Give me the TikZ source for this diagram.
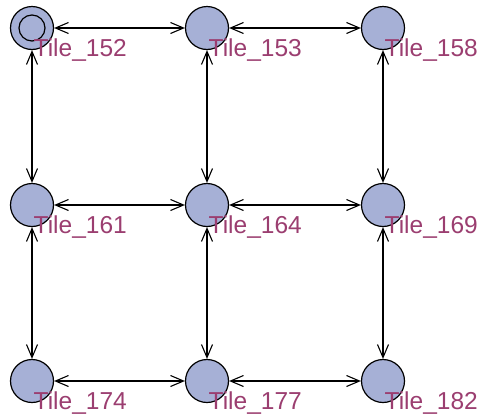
\documentclass[tikz,border=0pt]{standalone}
\usepackage{fontspec}
\setmainfont{Liberation Sans}
\usetikzlibrary{arrows.meta}
\definecolor{tilefill}{RGB}{166,176,214}
\definecolor{tilelabel}{RGB}{155,62,112}
\begin{document}
\begin{tikzpicture}[x=1pt,y=1pt,
  tile/.style={circle,draw=black,line width=1.2pt,fill=tilefill,minimum size=43pt,inner sep=0pt},
  tilename/.style={anchor=base west,text=tilelabel,font=\fontsize{24.5}{27}\selectfont,inner sep=0pt},
  link/.style={draw=black,line width=1.1pt,{Straight Barb[length=13pt,width=11pt]}-{Straight Barb[length=13pt,width=11pt]}}]
\useasboundingbox (0,0) rectangle (479,-413);
% grid of tiles
\node[tile] (t152) at (32,-28) {};
\node[tile] (t153) at (207,-28) {};
\node[tile] (t158) at (383,-28) {};
\node[tile] (t161) at (32,-205) {};
\node[tile] (t164) at (207,-205) {};
\node[tile] (t169) at (383,-205) {};
\node[tile] (t174) at (32,-381) {};
\node[tile] (t177) at (207,-381) {};
\node[tile] (t182) at (383,-381) {};
% start marker
\draw[line width=1.2pt] (t152.center) circle (13pt);
% horizontal links
\draw[link] (t152) -- (t153);
\draw[link] (t153) -- (t158);
\draw[link] (t161) -- (t164);
\draw[link] (t164) -- (t169);
\draw[link] (t174) -- (t177);
\draw[link] (t177) -- (t182);
% vertical links
\draw[link] (t152) -- (t161);
\draw[link] (t161) -- (t174);
\draw[link] (t153) -- (t164);
\draw[link] (t164) -- (t177);
\draw[link] (t158) -- (t169);
\draw[link] (t169) -- (t182);
% labels
\foreach \n in {152,153,158,161,164,169,174,177,182}
  \node[tilename] (l\n) at ([xshift=1.5pt,yshift=-28pt]t\n.center) {Tile\_\n};
\end{tikzpicture}
\end{document}
